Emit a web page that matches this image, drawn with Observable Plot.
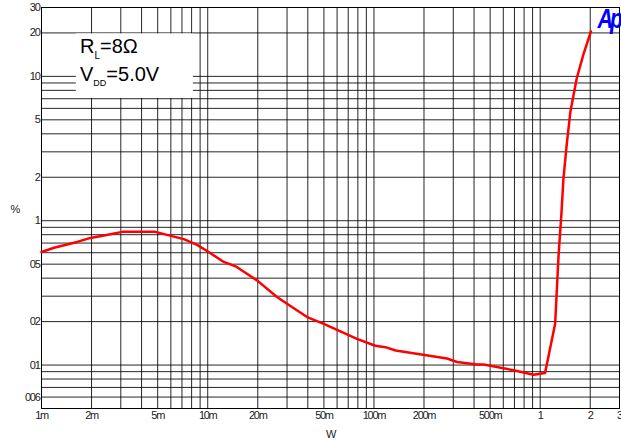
<!DOCTYPE html>
<html>
<head>
<meta charset="utf-8">
<script src="https://cdn.jsdelivr.net/npm/d3@7"></script>
<script src="https://cdn.jsdelivr.net/npm/@observablehq/plot@0.6"></script>
<style>
  html, body { margin: 0; padding: 0; background: #fff; }
  #chart svg { display: block; }
</style>
</head>
<body>
<div id="chart"></div>
<script>
// Output power (W)
const watts = [0.001, 0.00119, 0.00164, 0.00197, 0.00242, 0.00306, 0.00485, 0.00625, 0.00717, 0.00863,
  0.0099, 0.0125, 0.0147, 0.0198, 0.0261, 0.030, 0.0396, 0.0499, 0.060, 0.079,
  0.102, 0.117, 0.135, 0.275, 0.316, 0.417, 0.457, 0.692, 0.912, 1.07,
  1.23, 1.29, 1.34, 1.38, 1.45, 1.52, 1.66, 1.82, 2.02];
// THD+N (%)
const thd = [0.607, 0.65, 0.713, 0.76, 0.794, 0.837, 0.837, 0.776, 0.745, 0.68,
  0.617, 0.518, 0.483, 0.386, 0.296, 0.266, 0.215, 0.193, 0.175, 0.152,
  0.136, 0.133, 0.126, 0.111, 0.105, 0.101, 0.101, 0.092, 0.0857, 0.088,
  0.193, 0.576, 1.09, 1.96, 3.53, 5.7, 9.7, 14.2, 20.5];

const xTicks = [0.001, 0.002, 0.005, 0.01, 0.02, 0.05, 0.1, 0.2, 0.5, 1, 2, 3];
const xTickLabels = ["1m", "2m", "5m", "10m", "20m", "50m", "100m", "200m", "500m", "1", "2", "3"];
const yTicks = [30, 20, 10, 5, 2, 1, 0.5, 0.2, 0.1, 0.06];
const yTickLabels = ["30", "20", "10", "5", "2", "1", "05", "02", "01", "006"];

const xDomain = [0.001, 3];
const yDomain = [0.05, 30];

const legendBox = [{x1: 0.00162, x2: 0.0082, y1: 7.03, y2: 19.7}];

const data = watts.map((w, i) => ({w, v: thd[i]}));
const fontFam = "'Liberation Sans', Arial, sans-serif";

const chart = Plot.plot({
  width: 621,
  height: 445,
  marginLeft: 41,
  marginRight: 2,
  marginTop: 7,
  marginBottom: 37,
  style: {fontFamily: fontFam, fontSize: "11px", color: "#222", background: "#fff"},
  x: {type: "log", domain: xDomain, axis: null},
  y: {type: "log", domain: yDomain, axis: null},
  marks: [
    Plot.gridX({ticks: 40, stroke: "#000", strokeOpacity: 0.85}),
    Plot.gridY({ticks: 40, stroke: "#000", strokeOpacity: 0.85}),
    Plot.rect(legendBox, {x1: "x1", x2: "x2", y1: "y1", y2: "y2", fill: "#fff"}),
    Plot.text(xTicks, {x: d => d, text: (d, i) => xTickLabels[i], frameAnchor: "bottom", dy: 10, fill: "#222", fontSize: 11}),
    Plot.text(yTicks, {y: d => d, text: (d, i) => yTickLabels[i], frameAnchor: "left", textAnchor: "end", dx: -2, fill: "#222", fontSize: 11}),
    Plot.frame({stroke: "#000"}),
    Plot.line(data, {x: "w", y: "v", stroke: "#ff0000", strokeWidth: 2.5}),
    Plot.text(["%"], {frameAnchor: "left", dx: -31, dy: 1, fontSize: 11, fill: "#222"}),
    Plot.text(["W"], {frameAnchor: "bottom", dy: 29, fontSize: 11, fill: "#222"})
  ]
});

const svg = d3.select(chart);
svg.selectAll("g[aria-label='text'] text").attr("letter-spacing", "-1.3");

const t1 = svg.append("text").attr("x", 80).attr("y", 53).attr("text-anchor", "start")
  .attr("font-family", fontFam).attr("font-size", 20).attr("fill", "#000");
t1.append("tspan").text("R");
t1.append("tspan").attr("font-size", 10).attr("dy", 6).text("L");
t1.append("tspan").attr("dy", -6).text("=8Ω");
const t2 = svg.append("text").attr("x", 80).attr("y", 81).attr("text-anchor", "start")
  .attr("font-family", fontFam).attr("font-size", 20).attr("fill", "#000");
t2.append("tspan").text("V");
t2.append("tspan").attr("font-size", 9).attr("dy", 5).text("DD");
t2.append("tspan").attr("dy", -5).text("=5.0V");

svg.append("text").attr("x", 620).attr("y", 28).attr("text-anchor", "end")
  .attr("font-family", fontFam).attr("font-size", 27).attr("font-weight", "bold")
  .attr("font-style", "italic").attr("letter-spacing", "-4").attr("fill", "#0000ff")
  .attr("transform", "translate(620,0) scale(0.8,1) translate(-620,0)").text("Ap");

document.getElementById("chart").appendChild(chart);
</script>
</body>
</html>
